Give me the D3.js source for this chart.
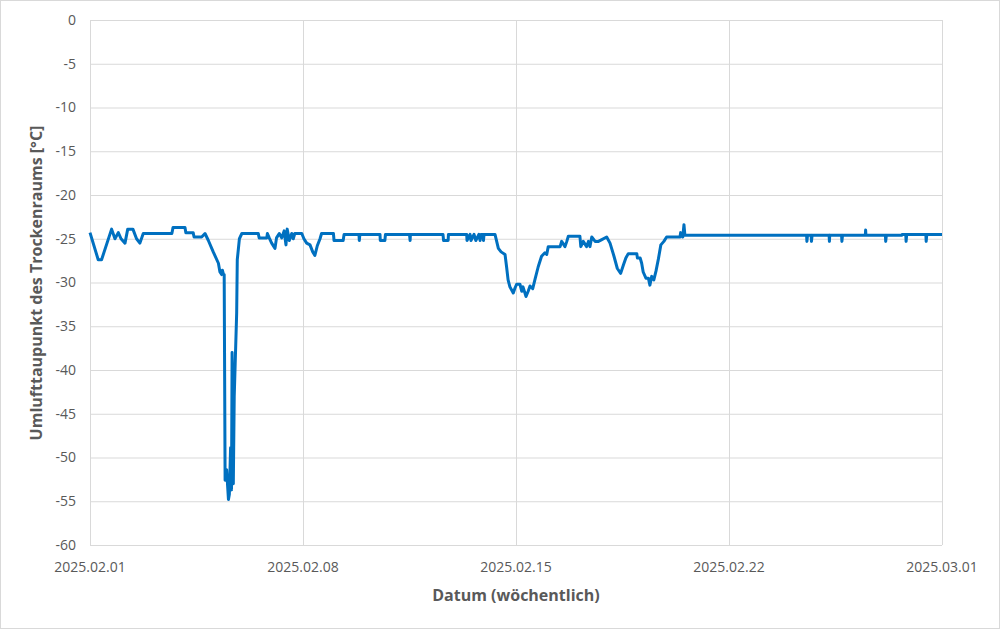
<!DOCTYPE html>
<html><head><meta charset="utf-8">
<script src="https://cdn.jsdelivr.net/npm/d3@7/dist/d3.min.js"></script>
<style>body{margin:0;background:#fff;}svg{display:block;}text{font-family:"Open Sans",sans-serif;fill:#595959;}</style>
</head><body>
<script>
// days since 2025-02-01
const days = [0.00,0.27,0.38,0.71,0.82,0.93,1.02,1.15,1.24,1.41,1.53,1.64,1.75,2.69,2.73,3.12,3.15,3.39,3.42,3.67,3.78,3.89,4.05,4.22,4.27,4.33,4.35,4.39,4.41,4.44,4.49,4.55,4.58,4.62,4.65,4.67,4.71,4.74,4.82,4.84,4.91,4.99,5.53,5.56,5.81,5.83,5.89,5.97,6.08,6.13,6.22,6.30,6.38,6.44,6.48,6.55,6.63,6.68,6.73,6.96,7.03,7.12,7.23,7.32,7.39,7.47,7.56,7.61,8.00,8.02,8.32,8.35,8.84,8.85,8.87,9.53,9.54,9.69,9.71,10.50,10.52,10.53,11.60,11.62,11.77,11.78,12.38,12.39,12.49,12.52,12.62,12.68,12.78,12.82,12.85,12.92,12.93,12.95,13.31,13.42,13.51,13.64,13.69,13.74,13.80,13.91,13.97,14.02,14.13,14.19,14.23,14.33,14.40,14.46,14.55,14.62,14.73,14.84,14.95,15.01,15.06,15.45,15.50,15.61,15.67,15.72,16.10,16.13,16.21,16.32,16.38,16.43,16.49,16.60,16.71,16.82,16.98,17.09,17.22,17.33,17.44,17.53,17.61,17.69,17.97,17.99,18.08,18.13,18.18,18.27,18.35,18.40,18.46,18.53,18.60,18.68,18.76,18.86,18.95,19.39,19.41,19.48,19.52,19.55,23.55,23.56,23.58,23.70,23.71,23.73,24.29,24.30,24.31,24.70,24.71,24.73,25.48,25.49,25.50,26.14,26.15,26.17,26.68,26.69,26.81,26.82,26.84,27.47,27.48,27.50,28.00];
const values = [-24.3,-27.4,-27.4,-23.9,-25.0,-24.3,-25.0,-25.5,-23.9,-23.9,-25.0,-25.5,-24.4,-24.4,-23.7,-23.7,-24.3,-24.3,-24.8,-24.8,-24.4,-25.2,-26.5,-27.8,-28.8,-29.1,-28.6,-29.1,-29.1,-52.6,-51.4,-54.8,-54.2,-48.9,-53.7,-38.0,-53.0,-43.0,-33.5,-27.4,-25.0,-24.4,-24.4,-24.9,-24.9,-24.4,-24.9,-25.5,-26.1,-24.9,-24.4,-24.9,-24.1,-25.7,-23.9,-25.2,-24.4,-25.0,-24.4,-24.4,-25.0,-25.5,-25.7,-26.5,-26.9,-25.8,-25.0,-24.4,-24.4,-25.2,-25.2,-24.5,-24.5,-25.2,-24.5,-24.5,-25.2,-25.2,-24.5,-24.5,-25.2,-24.5,-24.5,-25.2,-25.2,-24.5,-24.5,-25.2,-24.5,-25.2,-24.5,-25.2,-24.5,-25.2,-24.5,-24.5,-25.2,-24.5,-24.5,-26.1,-26.5,-26.8,-28.2,-29.7,-30.5,-31.2,-30.6,-30.2,-30.2,-31.0,-30.5,-31.6,-31.0,-30.4,-30.7,-29.7,-28.2,-27.0,-26.6,-26.8,-25.9,-25.9,-25.3,-25.9,-25.3,-24.7,-24.7,-25.9,-25.3,-25.9,-25.3,-25.9,-24.8,-25.3,-25.3,-25.1,-24.8,-25.5,-27.0,-28.4,-28.95,-28.0,-27.2,-26.7,-26.7,-27.2,-27.2,-27.8,-28.8,-29.5,-29.5,-30.3,-29.3,-29.7,-28.7,-27.3,-25.7,-25.3,-24.8,-24.8,-24.3,-24.8,-23.4,-24.6,-24.6,-25.3,-24.6,-24.6,-25.3,-24.6,-24.6,-25.3,-24.6,-24.6,-25.3,-24.6,-24.6,-24.0,-24.6,-24.6,-25.3,-24.6,-24.6,-24.5,-24.5,-25.3,-24.5,-24.5,-25.3,-24.5,-24.5];
const yTicks = [0,-5,-10,-15,-20,-25,-30,-35,-40,-45,-50,-55,-60];
const xTickDays = [0,7,14,21,28];
const xTickLabels = ["2025.02.01","2025.02.08","2025.02.15","2025.02.22","2025.03.01"];
const yTitle = "Umlufttaupunkt des Trockenraums [°C]";
const xTitle = "Datum (wöchentlich)";

const W=1000,H=629;
const svg=d3.select("body").append("svg").attr("width",W).attr("height",H);
svg.append("rect").attr("x",0.5).attr("y",0.5).attr("width",W-1).attr("height",H-1).attr("fill","#fff").attr("stroke","#d9d9d9");
const x=d3.scaleLinear().domain([0,28]).range([90,942]);
const y=d3.scaleLinear().domain([-60,0]).range([545,20]);
const g=svg.append("g");
g.selectAll("line.h").data(yTicks).join("line").attr("x1",90).attr("x2",942).attr("y1",d=>y(d)+0.5).attr("y2",d=>y(d)+0.5).attr("stroke","#d9d9d9");
g.selectAll("line.v").data(xTickDays).join("line").attr("y1",20).attr("y2",545).attr("x1",d=>Math.round(x(d))+0.5).attr("x2",d=>Math.round(x(d))+0.5).attr("stroke","#d9d9d9");
g.selectAll("text.yt").data(yTicks).join("text").attr("x",76).attr("y",d=>y(d)).attr("dy","0.35em").attr("text-anchor","end").style("font-size","14px").text(d=>d);
g.selectAll("text.xt").data(xTickDays).join("text").attr("x",d=>x(d)).attr("y",572).attr("text-anchor","middle").style("font-size","14px").text((d,i)=>xTickLabels[i]);
const pts=days.map((d,i)=>[d,values[i]]);
g.append("path").datum(pts).attr("fill","none").attr("stroke","#0070c0").attr("stroke-width",3).attr("stroke-linejoin","round")
 .attr("d",d3.line().x(d=>x(d[0])).y(d=>y(d[1])));
svg.append("text").attr("x",516).attr("y",601).attr("text-anchor","middle").style("font-size","16px").style("font-weight","bold").text(xTitle);
svg.append("text").attr("transform","translate(42,283) rotate(-90)").attr("text-anchor","middle").style("font-size","16px").style("font-weight","bold").text(yTitle);
</script>
</body></html>
